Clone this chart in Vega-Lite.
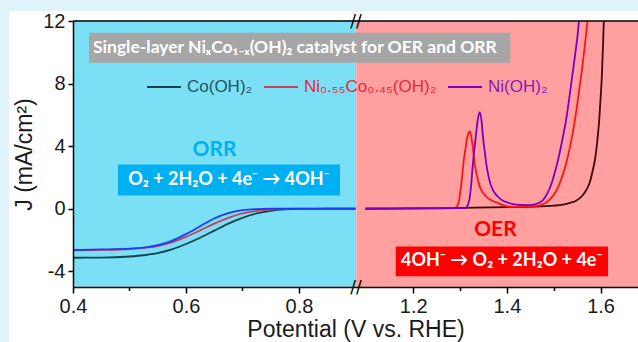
{
  "$schema": "https://vega.github.io/schema/vega-lite/v6.json",
  "autosize": {"type": "none"},
  "padding": {"left": 73, "top": 21, "right": 0, "bottom": 55},
  "width": 565,
  "height": 266,
  "background": "#E0F2FA",
  "config": {"view": {"stroke": null}, "font": "Liberation Sans"},
  "datasets": {
    "curves": [
      {"curve": "Co(OH)2 ORR", "x": 0.40, "y": -3.13},
      {"curve": "Co(OH)2 ORR", "x": 0.45, "y": -3.12},
      {"curve": "Co(OH)2 ORR", "x": 0.50, "y": -3.05},
      {"curve": "Co(OH)2 ORR", "x": 0.525, "y": -2.97},
      {"curve": "Co(OH)2 ORR", "x": 0.55, "y": -2.83},
      {"curve": "Co(OH)2 ORR", "x": 0.575, "y": -2.60},
      {"curve": "Co(OH)2 ORR", "x": 0.60, "y": -2.25},
      {"curve": "Co(OH)2 ORR", "x": 0.625, "y": -1.85},
      {"curve": "Co(OH)2 ORR", "x": 0.65, "y": -1.40},
      {"curve": "Co(OH)2 ORR", "x": 0.675, "y": -0.95},
      {"curve": "Co(OH)2 ORR", "x": 0.70, "y": -0.58},
      {"curve": "Co(OH)2 ORR", "x": 0.725, "y": -0.30},
      {"curve": "Co(OH)2 ORR", "x": 0.75, "y": -0.13},
      {"curve": "Co(OH)2 ORR", "x": 0.775, "y": -0.04},
      {"curve": "Co(OH)2 ORR", "x": 0.80, "y": -0.01},
      {"curve": "Co(OH)2 ORR", "x": 0.85, "y": 0.0},
      {"curve": "Co(OH)2 ORR", "x": 0.90, "y": 0.0},
      {"curve": "Ni0.55Co0.45(OH)2 ORR", "x": 0.40, "y": -2.66},
      {"curve": "Ni0.55Co0.45(OH)2 ORR", "x": 0.45, "y": -2.63},
      {"curve": "Ni0.55Co0.45(OH)2 ORR", "x": 0.50, "y": -2.57},
      {"curve": "Ni0.55Co0.45(OH)2 ORR", "x": 0.525, "y": -2.50},
      {"curve": "Ni0.55Co0.45(OH)2 ORR", "x": 0.55, "y": -2.38},
      {"curve": "Ni0.55Co0.45(OH)2 ORR", "x": 0.575, "y": -2.15},
      {"curve": "Ni0.55Co0.45(OH)2 ORR", "x": 0.60, "y": -1.80},
      {"curve": "Ni0.55Co0.45(OH)2 ORR", "x": 0.625, "y": -1.38},
      {"curve": "Ni0.55Co0.45(OH)2 ORR", "x": 0.65, "y": -0.95},
      {"curve": "Ni0.55Co0.45(OH)2 ORR", "x": 0.675, "y": -0.58},
      {"curve": "Ni0.55Co0.45(OH)2 ORR", "x": 0.70, "y": -0.30},
      {"curve": "Ni0.55Co0.45(OH)2 ORR", "x": 0.725, "y": -0.13},
      {"curve": "Ni0.55Co0.45(OH)2 ORR", "x": 0.75, "y": -0.05},
      {"curve": "Ni0.55Co0.45(OH)2 ORR", "x": 0.775, "y": -0.01},
      {"curve": "Ni0.55Co0.45(OH)2 ORR", "x": 0.80, "y": 0.0},
      {"curve": "Ni0.55Co0.45(OH)2 ORR", "x": 0.90, "y": 0.0},
      {"curve": "Ni(OH)2 ORR", "x": 0.40, "y": -2.63},
      {"curve": "Ni(OH)2 ORR", "x": 0.45, "y": -2.60},
      {"curve": "Ni(OH)2 ORR", "x": 0.50, "y": -2.55},
      {"curve": "Ni(OH)2 ORR", "x": 0.525, "y": -2.48},
      {"curve": "Ni(OH)2 ORR", "x": 0.55, "y": -2.33},
      {"curve": "Ni(OH)2 ORR", "x": 0.575, "y": -2.05},
      {"curve": "Ni(OH)2 ORR", "x": 0.60, "y": -1.62},
      {"curve": "Ni(OH)2 ORR", "x": 0.625, "y": -1.12},
      {"curve": "Ni(OH)2 ORR", "x": 0.65, "y": -0.62},
      {"curve": "Ni(OH)2 ORR", "x": 0.675, "y": -0.28},
      {"curve": "Ni(OH)2 ORR", "x": 0.70, "y": -0.09},
      {"curve": "Ni(OH)2 ORR", "x": 0.725, "y": -0.02},
      {"curve": "Ni(OH)2 ORR", "x": 0.75, "y": 0.0},
      {"curve": "Ni(OH)2 ORR", "x": 0.90, "y": 0.0},
      {"curve": "Co(OH)2 OER", "x": 1.098, "y": 0.0},
      {"curve": "Co(OH)2 OER", "x": 1.20, "y": 0.03},
      {"curve": "Co(OH)2 OER", "x": 1.30, "y": 0.06},
      {"curve": "Co(OH)2 OER", "x": 1.40, "y": 0.10},
      {"curve": "Co(OH)2 OER", "x": 1.45, "y": 0.13},
      {"curve": "Co(OH)2 OER", "x": 1.50, "y": 0.20},
      {"curve": "Co(OH)2 OER", "x": 1.52, "y": 0.27},
      {"curve": "Co(OH)2 OER", "x": 1.535, "y": 0.38},
      {"curve": "Co(OH)2 OER", "x": 1.547, "y": 0.50},
      {"curve": "Co(OH)2 OER", "x": 1.56, "y": 0.80},
      {"curve": "Co(OH)2 OER", "x": 1.568, "y": 1.12},
      {"curve": "Co(OH)2 OER", "x": 1.576, "y": 1.60},
      {"curve": "Co(OH)2 OER", "x": 1.583, "y": 2.40},
      {"curve": "Co(OH)2 OER", "x": 1.589, "y": 3.30},
      {"curve": "Co(OH)2 OER", "x": 1.593, "y": 4.30},
      {"curve": "Co(OH)2 OER", "x": 1.597, "y": 5.60},
      {"curve": "Co(OH)2 OER", "x": 1.600, "y": 7.00},
      {"curve": "Co(OH)2 OER", "x": 1.603, "y": 8.60},
      {"curve": "Co(OH)2 OER", "x": 1.605, "y": 10.20},
      {"curve": "Co(OH)2 OER", "x": 1.607, "y": 12.0},
      {"curve": "Ni0.55Co0.45(OH)2 OER", "x": 1.098, "y": 0.02},
      {"curve": "Ni0.55Co0.45(OH)2 OER", "x": 1.20, "y": 0.03},
      {"curve": "Ni0.55Co0.45(OH)2 OER", "x": 1.285, "y": 0.04},
      {"curve": "Ni0.55Co0.45(OH)2 OER", "x": 1.292, "y": 0.10},
      {"curve": "Ni0.55Co0.45(OH)2 OER", "x": 1.297, "y": 0.40},
      {"curve": "Ni0.55Co0.45(OH)2 OER", "x": 1.301, "y": 1.20},
      {"curve": "Ni0.55Co0.45(OH)2 OER", "x": 1.305, "y": 2.20},
      {"curve": "Ni0.55Co0.45(OH)2 OER", "x": 1.308, "y": 3.10},
      {"curve": "Ni0.55Co0.45(OH)2 OER", "x": 1.312, "y": 3.90},
      {"curve": "Ni0.55Co0.45(OH)2 OER", "x": 1.315, "y": 4.50},
      {"curve": "Ni0.55Co0.45(OH)2 OER", "x": 1.318, "y": 4.85},
      {"curve": "Ni0.55Co0.45(OH)2 OER", "x": 1.321, "y": 4.95},
      {"curve": "Ni0.55Co0.45(OH)2 OER", "x": 1.324, "y": 4.60},
      {"curve": "Ni0.55Co0.45(OH)2 OER", "x": 1.327, "y": 4.00},
      {"curve": "Ni0.55Co0.45(OH)2 OER", "x": 1.332, "y": 2.72},
      {"curve": "Ni0.55Co0.45(OH)2 OER", "x": 1.338, "y": 1.87},
      {"curve": "Ni0.55Co0.45(OH)2 OER", "x": 1.343, "y": 1.35},
      {"curve": "Ni0.55Co0.45(OH)2 OER", "x": 1.349, "y": 1.02},
      {"curve": "Ni0.55Co0.45(OH)2 OER", "x": 1.359, "y": 0.70},
      {"curve": "Ni0.55Co0.45(OH)2 OER", "x": 1.370, "y": 0.50},
      {"curve": "Ni0.55Co0.45(OH)2 OER", "x": 1.380, "y": 0.38},
      {"curve": "Ni0.55Co0.45(OH)2 OER", "x": 1.395, "y": 0.20},
      {"curve": "Ni0.55Co0.45(OH)2 OER", "x": 1.410, "y": 0.12},
      {"curve": "Ni0.55Co0.45(OH)2 OER", "x": 1.450, "y": 0.13},
      {"curve": "Ni0.55Co0.45(OH)2 OER", "x": 1.470, "y": 0.22},
      {"curve": "Ni0.55Co0.45(OH)2 OER", "x": 1.483, "y": 0.38},
      {"curve": "Ni0.55Co0.45(OH)2 OER", "x": 1.495, "y": 0.70},
      {"curve": "Ni0.55Co0.45(OH)2 OER", "x": 1.505, "y": 1.12},
      {"curve": "Ni0.55Co0.45(OH)2 OER", "x": 1.515, "y": 1.80},
      {"curve": "Ni0.55Co0.45(OH)2 OER", "x": 1.526, "y": 2.83},
      {"curve": "Ni0.55Co0.45(OH)2 OER", "x": 1.533, "y": 3.70},
      {"curve": "Ni0.55Co0.45(OH)2 OER", "x": 1.540, "y": 4.74},
      {"curve": "Ni0.55Co0.45(OH)2 OER", "x": 1.547, "y": 6.00},
      {"curve": "Ni0.55Co0.45(OH)2 OER", "x": 1.554, "y": 7.50},
      {"curve": "Ni0.55Co0.45(OH)2 OER", "x": 1.560, "y": 8.80},
      {"curve": "Ni0.55Co0.45(OH)2 OER", "x": 1.565, "y": 10.06},
      {"curve": "Ni0.55Co0.45(OH)2 OER", "x": 1.569, "y": 11.10},
      {"curve": "Ni0.55Co0.45(OH)2 OER", "x": 1.572, "y": 12.0},
      {"curve": "Ni(OH)2 OER", "x": 1.098, "y": 0.0},
      {"curve": "Ni(OH)2 OER", "x": 1.20, "y": 0.02},
      {"curve": "Ni(OH)2 OER", "x": 1.30, "y": 0.04},
      {"curve": "Ni(OH)2 OER", "x": 1.312, "y": 0.06},
      {"curve": "Ni(OH)2 OER", "x": 1.316, "y": 0.20},
      {"curve": "Ni(OH)2 OER", "x": 1.320, "y": 0.59},
      {"curve": "Ni(OH)2 OER", "x": 1.324, "y": 1.60},
      {"curve": "Ni(OH)2 OER", "x": 1.327, "y": 2.72},
      {"curve": "Ni(OH)2 OER", "x": 1.331, "y": 3.90},
      {"curve": "Ni(OH)2 OER", "x": 1.3345, "y": 4.85},
      {"curve": "Ni(OH)2 OER", "x": 1.338, "y": 5.70},
      {"curve": "Ni(OH)2 OER", "x": 1.342, "y": 6.17},
      {"curve": "Ni(OH)2 OER", "x": 1.346, "y": 5.60},
      {"curve": "Ni(OH)2 OER", "x": 1.349, "y": 4.60},
      {"curve": "Ni(OH)2 OER", "x": 1.353, "y": 3.60},
      {"curve": "Ni(OH)2 OER", "x": 1.357, "y": 2.70},
      {"curve": "Ni(OH)2 OER", "x": 1.363, "y": 1.80},
      {"curve": "Ni(OH)2 OER", "x": 1.370, "y": 1.20},
      {"curve": "Ni(OH)2 OER", "x": 1.380, "y": 0.80},
      {"curve": "Ni(OH)2 OER", "x": 1.390, "y": 0.55},
      {"curve": "Ni(OH)2 OER", "x": 1.400, "y": 0.42},
      {"curve": "Ni(OH)2 OER", "x": 1.412, "y": 0.30},
      {"curve": "Ni(OH)2 OER", "x": 1.430, "y": 0.24},
      {"curve": "Ni(OH)2 OER", "x": 1.448, "y": 0.23},
      {"curve": "Ni(OH)2 OER", "x": 1.460, "y": 0.28},
      {"curve": "Ni(OH)2 OER", "x": 1.469, "y": 0.38},
      {"curve": "Ni(OH)2 OER", "x": 1.477, "y": 0.55},
      {"curve": "Ni(OH)2 OER", "x": 1.483, "y": 0.80},
      {"curve": "Ni(OH)2 OER", "x": 1.490, "y": 1.20},
      {"curve": "Ni(OH)2 OER", "x": 1.497, "y": 1.76},
      {"curve": "Ni(OH)2 OER", "x": 1.505, "y": 2.60},
      {"curve": "Ni(OH)2 OER", "x": 1.512, "y": 3.47},
      {"curve": "Ni(OH)2 OER", "x": 1.519, "y": 4.50},
      {"curve": "Ni(OH)2 OER", "x": 1.526, "y": 5.59},
      {"curve": "Ni(OH)2 OER", "x": 1.533, "y": 7.00},
      {"curve": "Ni(OH)2 OER", "x": 1.540, "y": 8.57},
      {"curve": "Ni(OH)2 OER", "x": 1.546, "y": 9.90},
      {"curve": "Ni(OH)2 OER", "x": 1.551, "y": 11.10},
      {"curve": "Ni(OH)2 OER", "x": 1.554, "y": 12.0}
    ],
    "areas": [
      {"area": "page", "x": 0.2867, "x2": 1.75, "y": 12.64, "y2": -9},
      {"area": "ORR region", "x": 0.4, "x2": 0.99, "y": -5, "y2": 12},
      {"area": "OER region", "x": 0.99, "x2": 1.75, "y": -5, "y2": 12},
      {"area": "title box", "x": 0.4283, "x2": 1.4074, "y": 11.25, "y2": 9.33},
      {"area": "ORR box", "x": 0.4796, "x2": 0.8726, "y": 2.83, "y2": 0.85},
      {"area": "OER box", "x": 1.1628, "x2": 1.616, "y": -2.41, "y2": -4.32}
    ]
  },
  "layer": [
    {
      "data": {"name": "areas"},
      "mark": {"type": "rect"},
      "encoding": {
        "x": {"field": "x", "type": "quantitative"},
        "x2": {"field": "x2"},
        "y": {"field": "y", "type": "quantitative"},
        "y2": {"field": "y2"},
        "fill": {"field": "area", "type": "nominal", "legend": null,
          "scale": {"domain": ["page", "ORR region", "OER region", "title box", "ORR box", "OER box"],
                    "range": ["#FFFFFF", "#7BE0F6", "#FF9F9F", "#A6A6A6", "#00B0F0", "#FF0000"]}}
      }
    },
    {
      "data": {"name": "curves"},
      "mark": {"type": "line", "strokeWidth": 1.8, "interpolate": "monotone", "clip": true},
      "encoding": {
        "x": {"field": "x", "type": "quantitative",
          "scale": {"domain": [0.4, 0.9, 1.08, 1.68], "range": [0, 282.5, 284, 565], "nice": false, "zero": false},
          "axis": {"title": "Potential (V vs. RHE)", "zindex": 1,
            "values": [0.4, 0.5, 0.6, 0.7, 0.8, 1.2, 1.3, 1.4, 1.5, 1.6],
            "labelExpr": "indexof([0.5, 0.7, 1.3, 1.5], datum.value) >= 0 ? '' : format(datum.value, '.1f')",
            "tickSize": {"condition": {"test": "indexof([0.5, 0.7, 1.3, 1.5], datum.value) >= 0", "value": 3.5}, "value": 6},
            "labelFlush": false, "labelOverlap": false, "grid": false,
            "domainColor": "#000000", "domainWidth": 1.5, "tickColor": "#000000", "tickWidth": 1.5,
            "labelFont": "Liberation Sans", "labelFontSize": 20, "labelColor": "#1a1a1a", "labelPadding": 3,
            "titleFont": "Liberation Sans", "titleFontSize": 23, "titleFontWeight": "normal", "titleColor": "#1a1a1a", "titlePadding": 2}},
        "y": {"field": "y", "type": "quantitative",
          "scale": {"domain": [-5, 12], "nice": false, "zero": false},
          "axis": {"title": "J (mA/cm²)", "zindex": 1,
            "values": [-4, -2, 0, 2, 4, 6, 8, 10, 12],
            "labelExpr": "datum.value % 4 === 0 ? '' + datum.value : ''",
            "tickSize": {"condition": {"test": "datum.value % 4 !== 0", "value": 3}, "value": 5},
            "labelOverlap": false, "grid": false,
            "domainColor": "#000000", "domainWidth": 1.5, "tickColor": "#000000", "tickWidth": 1.5,
            "labelFont": "Liberation Sans", "labelFontSize": 20, "labelColor": "#1a1a1a", "labelPadding": 3,
            "titleFont": "Liberation Sans", "titleFontSize": 23, "titleFontWeight": "normal", "titleColor": "#1a1a1a", "titlePadding": 6}},
        "color": {"field": "curve", "type": "nominal",
          "scale": {"domain": ["Co(OH)2 ORR", "Ni0.55Co0.45(OH)2 ORR", "Ni(OH)2 ORR", "Co(OH)2 OER", "Ni0.55Co0.45(OH)2 OER", "Ni(OH)2 OER"],
                    "range": ["#14434C", "#C8405A", "#1F3CF5", "#3D0808", "#FF1414", "#7A00C4"]},
          "legend": {"orient": "none", "legendX": 73, "legendY": 48, "direction": "horizontal", "title": null,
            "values": ["Co(OH)2 ORR", "Ni0.55Co0.45(OH)2 ORR", "Ni(OH)2 OER"],
            "labelExpr": "datum.value == 'Co(OH)2 ORR' ? 'Co(OH)₂' : datum.value == 'Ni(OH)2 OER' ? 'Ni(OH)₂' : 'Ni₀.₅₅Co₀.₄₅(OH)₂'",
            "symbolType": "stroke", "symbolSize": 1156, "symbolStrokeWidth": 2,
            "labelFont": "Liberation Sans", "labelFontSize": 17, "labelOffset": 5, "columnPadding": 7, "padding": 0,
            "encode": {"labels": {"update": {"fill": {"signal": "datum.value == 'Co(OH)2 ORR' ? '#1D5560' : datum.value == 'Ni(OH)2 OER' ? '#8A1AB8' : '#E8283A'"}}}}}}
      }
    },
    {
      "data": {"values": [{"x": 0.4, "x2": 1.75, "y": 12}]},
      "mark": {"type": "rule", "color": "#000000", "strokeWidth": 1.5},
      "encoding": {"x": {"field": "x", "type": "quantitative"}, "x2": {"field": "x2"}, "y": {"field": "y", "type": "quantitative"}}
    },
    {
      "data": {"values": [{"x": 0.96, "y": 12}, {"x": 0.96, "y": -5}]},
      "mark": {"type": "text", "text": "//", "font": "DejaVu Sans", "fontSize": 17, "letterSpacing": 1, "color": "#000000", "baseline": "middle", "align": "center", "dy": 1},
      "encoding": {"x": {"field": "x", "type": "quantitative"}, "y": {"field": "y", "type": "quantitative"}}
    },
    {
      "data": {"values": [{"x": 0.4354, "y": 10.29, "t": "Single-layer NiₓCo₁₋ₓ(OH)₂ catalyst for OER and ORR"}]},
      "mark": {"type": "text", "font": "Lato", "fontSize": 17.5, "fontWeight": "bold", "color": "#FFFFFF", "align": "left", "baseline": "middle"},
      "encoding": {"x": {"field": "x", "type": "quantitative"}, "y": {"field": "y", "type": "quantitative"}, "text": {"field": "t"}}
    },
    {
      "data": {"values": [{"x": 0.6504, "y": 3.78, "t": "ORR"}]},
      "mark": {"type": "text", "font": "Lato", "fontSize": 21, "fontWeight": "bold", "color": "#00B0F0", "align": "center", "baseline": "middle"},
      "encoding": {"x": {"field": "x", "type": "quantitative"}, "y": {"field": "y", "type": "quantitative"}, "text": {"field": "t"}}
    },
    {
      "data": {"values": [{"x": 1.3755, "y": -1.38, "t": "OER"}]},
      "mark": {"type": "text", "font": "Lato", "fontSize": 21, "fontWeight": "bold", "color": "#FF0000", "align": "center", "baseline": "middle"},
      "encoding": {"x": {"field": "x", "type": "quantitative"}, "y": {"field": "y", "type": "quantitative"}, "text": {"field": "t"}}
    },
    {
      "data": {"values": [{"x": 0.676, "y": 1.84, "t": "O₂ + 2H₂O + 4e⁻ → 4OH⁻"}, {"x": 1.389, "y": -3.36, "t": "4OH⁻ → O₂ + 2H₂O + 4e⁻"}]},
      "mark": {"type": "text", "font": "Lato", "fontSize": 18, "fontWeight": "bold", "color": "#FFFFFF", "align": "center", "baseline": "middle"},
      "encoding": {"x": {"field": "x", "type": "quantitative"}, "y": {"field": "y", "type": "quantitative"}, "text": {"field": "t"}}
    }
  ]
}
